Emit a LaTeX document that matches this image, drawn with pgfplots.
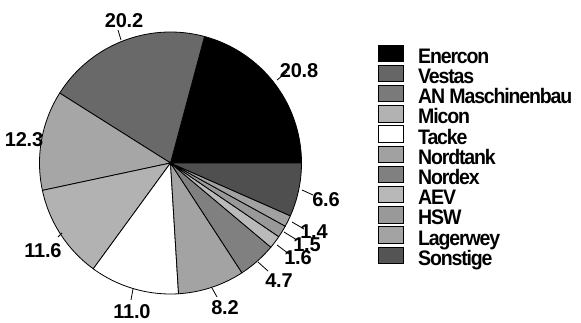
\documentclass[border=0pt]{standalone}
\usepackage{fontspec}
\setmainfont{Liberation Sans}[LetterSpace=-6]
\newfontfamily\numfamily{Liberation Sans}[LetterSpace=-1]
\usepackage{pgfplots}
\pgfplotsset{compat=1.18}
\usepackage{graphicx}
% pie slice fills
\definecolor{pEn}{gray}{0}
\definecolor{pVe}{gray}{0.41}
\definecolor{pAN}{gray}{0.65}
\definecolor{pMi}{gray}{0.70}
\definecolor{pTa}{gray}{1}
\definecolor{pNt}{gray}{0.64}
\definecolor{pNx}{gray}{0.50}
\definecolor{pAE}{gray}{0.73}
\definecolor{pHS}{gray}{0.60}
\definecolor{pLa}{gray}{0.63}
\definecolor{pSo}{gray}{0.31}
% legend fills
\definecolor{lEn}{gray}{0}
\definecolor{lVe}{gray}{0.40}
\definecolor{lAN}{gray}{0.48}
\definecolor{lMi}{gray}{0.70}
\definecolor{lTa}{gray}{1}
\definecolor{lNt}{gray}{0.63}
\definecolor{lNx}{gray}{0.50}
\definecolor{lAE}{gray}{0.72}
\definecolor{lHS}{gray}{0.60}
\definecolor{lLa}{gray}{0.64}
\definecolor{lSo}{gray}{0.33}
% shares in percent (cumulative sums used as slice limits)
% Enercon 20.8, Vestas 20.2, AN Maschinenbau 12.3, Micon 11.6, Tacke 11.0,
% Nordtank 8.2, Nordex 4.7, AEV 1.6, HSW 1.5, Lagerwey 1.4, Sonstige 6.6
\def\k{3.6036}
\newcommand\lab{\numfamily\fontsize{20bp}{21bp}\selectfont\bfseries}
\newcommand\leg{\fontsize{21bp}{22bp}\selectfont\bfseries}
\begin{document}
\begin{tikzpicture}
\useasboundingbox (0,0) rectangle (581bp,323bp);
\begin{axis}[x=1bp, y=1bp, xmin=0, xmax=581, ymin=0, ymax=323,
  hide axis, clip=false, scale only axis]
\pgfplotsset{slice/.style={draw=black, line width=0.8bp, samples=60, variable=\t, forget plot}}
\addplot[slice, fill=pEn, domain=\k*0:\k*20.8] ({170.5+131*cos(\t)},{160+131*sin(\t)}) -- (170.5,160) -- cycle;
\addplot[slice, fill=pVe, domain=\k*20.8:\k*41.0] ({170.5+131*cos(\t)},{160+131*sin(\t)}) -- (170.5,160) -- cycle;
\addplot[slice, fill=pAN, domain=\k*41.0:\k*53.3] ({170.5+131*cos(\t)},{160+131*sin(\t)}) -- (170.5,160) -- cycle;
\addplot[slice, fill=pMi, domain=\k*53.3:\k*64.9] ({170.5+131*cos(\t)},{160+131*sin(\t)}) -- (170.5,160) -- cycle;
\addplot[slice, fill=pTa, domain=\k*64.9:\k*75.9] ({170.5+131*cos(\t)},{160+131*sin(\t)}) -- (170.5,160) -- cycle;
\addplot[slice, fill=pNt, domain=\k*75.9:\k*84.1] ({170.5+131*cos(\t)},{160+131*sin(\t)}) -- (170.5,160) -- cycle;
\addplot[slice, fill=pNx, domain=\k*84.1:\k*88.8] ({170.5+131*cos(\t)},{160+131*sin(\t)}) -- (170.5,160) -- cycle;
\addplot[slice, fill=pAE, domain=\k*88.8:\k*90.4] ({170.5+131*cos(\t)},{160+131*sin(\t)}) -- (170.5,160) -- cycle;
\addplot[slice, fill=pHS, domain=\k*90.4:\k*91.9] ({170.5+131*cos(\t)},{160+131*sin(\t)}) -- (170.5,160) -- cycle;
\addplot[slice, fill=pLa, domain=\k*91.9:\k*93.3] ({170.5+131*cos(\t)},{160+131*sin(\t)}) -- (170.5,160) -- cycle;
\addplot[slice, fill=pSo, domain=\k*93.3:\k*99.9] ({170.5+131*cos(\t)},{160+131*sin(\t)}) -- (170.5,160) -- cycle;
% leader lines
\draw[line width=0.8bp] (277,243) -- (287,251);
\draw[line width=0.8bp] (121,283) -- (118,293);
\draw[line width=0.8bp] (62,90) -- (58,86);
\draw[line width=0.8bp] (133,34) -- (131,23);
\draw[line width=0.8bp] (212,35) -- (217,26);
\draw[line width=0.8bp] (258,61) -- (268,52);
\draw[line width=0.8bp] (277,78) -- (289,69);
\draw[line width=0.8bp] (284,91) -- (297,83);
\draw[line width=0.8bp] (292,101) -- (304,94);
\draw[line width=0.8bp] (302,133) -- (313,128);
% value labels
\node[inner sep=0, font=\lab] at (299,252) {20.8};
\node[inner sep=0, font=\lab] at (124,302) {20.2};
\node[inner sep=0, font=\lab] at (24,183) {12.3};
\node[inner sep=0, font=\lab] at (43,72) {11.6};
\node[inner sep=0, font=\lab] at (132,11) {11.0};
\node[inner sep=0, font=\lab] at (225,15) {8.2};
\node[inner sep=0, font=\lab] at (279,42) {4.7};
\node[inner sep=0, font=\lab] at (298,65) {1.6};
\node[inner sep=0, font=\lab] at (307,78) {1.5};
\node[inner sep=0, font=\lab] at (314,91) {1.4};
\node[inner sep=0, font=\lab] at (326,123) {6.6};
\end{axis}
\begin{scope}[x=1bp, y=1bp]
\foreach \c/\n [count=\i from 0] in {lEn/Enercon, lVe/Vestas, lAN/AN Maschinenbau, lMi/Micon, lTa/Tacke, lNt/Nordtank, lNx/Nordex, lAE/AEV, lHS/HSW, lLa/Lagerwey, lSo/Sonstige}{
  \draw[fill=\c, line width=0.8bp] (378,{278-20.2*\i}) rectangle (403,{261.5-20.2*\i});
  \node[anchor=base west, inner sep=0, font=\leg] at (418,{259.7-20.2*\i}) {\scalebox{0.93}[1]{\n}};
}
\end{scope}
\end{tikzpicture}
\end{document}
